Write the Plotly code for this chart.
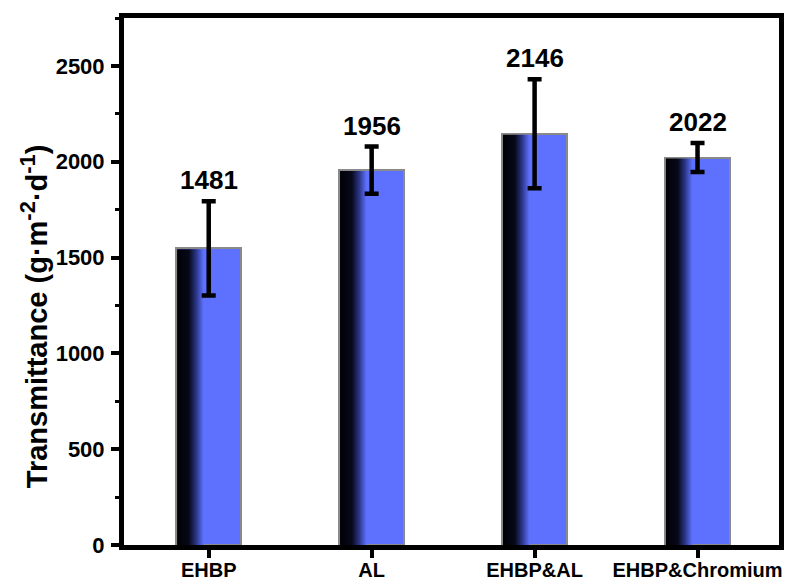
import plotly.graph_objects as go

categories = ["EHBP", "AL", "EHBP&AL", "EHBP&Chromium"]
bar_values = [1548, 1956, 2146, 2022]
error_values = [246, 123, 285, 76]
label_texts = ["1481", "1956", "2146", "2022"]
y_ticks = [0, 500, 1000, 1500, 2000, 2500]

BLUE = "#5d71fe"
FONT = "Liberation Sans, Arial, sans-serif"
BAR_W = 0.40
GRAD_FRAC = 0.42

pos = list(range(len(categories)))

fig = go.Figure()

fig.add_trace(go.Bar(
    x=pos, y=bar_values, width=BAR_W,
    marker=dict(color=BLUE, line=dict(color="#8a8a8a", width=2)),
    showlegend=False, hoverinfo="skip",
))

# dark-to-blue gradient on the left part of each bar
for i, v in zip(pos, bar_values):
    x0 = i - BAR_W / 2 + 0.006
    x1 = i - BAR_W / 2 + BAR_W * GRAD_FRAC
    y0 = 0
    y1 = v - 5
    fig.add_trace(go.Scatter(
        x=[x0, x1, x1, x0, x0], y=[y0, y0, y1, y1, y0],
        mode="lines", fill="toself", line=dict(width=0),
        fillgradient=dict(type="horizontal", colorscale=[
            [0.0, "#000004"], [0.45, "#07091a"], [0.72, "#2a3585"], [1.0, BLUE]]),
        showlegend=False, hoverinfo="skip",
    ))

fig.add_trace(go.Scatter(
    x=pos, y=bar_values, mode="markers",
    marker=dict(size=1, color="rgba(0,0,0,0)"),
    error_y=dict(type="data", array=error_values, visible=True,
                 color="black", thickness=4.5, width=7),
    showlegend=False, hoverinfo="skip",
))

for i, v, e, t in zip(pos, bar_values, error_values, label_texts):
    fig.add_annotation(x=i, y=v + e, text=t, showarrow=False, yshift=21,
                       font=dict(family=FONT, size=26, color="black", weight="bold"))

# y-axis title
fig.add_annotation(
    xref="paper", yref="paper", x=-0.1376, y=0.434, xanchor="center", yanchor="middle",
    textangle=-90, showarrow=False,
    text="Transmittance (g·m<sup><span style='font-size:22px'>-2</span></sup>·d<sup><span style='font-size:22px'>-1</span></sup>)",
    font=dict(family=FONT, size=29, color="black", weight="bold"),
)

fig.update_layout(
    template="none",
    width=795, height=580,
    margin=dict(l=116, r=24, t=10, b=43, autoexpand=False),
    paper_bgcolor="white", plot_bgcolor="white",
    font=dict(family=FONT, color="black"),
    bargap=0,
)

fig.update_xaxes(
    range=[-0.52, 3.5], tickvals=pos, ticktext=categories, automargin=False,
    showline=True, linewidth=5, linecolor="black", mirror=True,
    ticks="outside", ticklen=8, tickwidth=4, tickcolor="black",
    ticklabelstandoff=-5,
    tickfont=dict(family=FONT, size=20, color="black", weight="bold"),
    showgrid=False, zeroline=False,
)

fig.update_yaxes(
    range=[0, 2750], tickvals=y_ticks, automargin=False,
    showline=True, linewidth=5, linecolor="black", mirror=True,
    ticks="outside", ticklen=8, tickwidth=4, tickcolor="black",
    ticklabelstandoff=2,
    minor=dict(dtick=250, tick0=0, ticks="outside", ticklen=4, tickwidth=3, tickcolor="black"),
    tickfont=dict(family=FONT, size=22, color="black", weight="bold"),
    showgrid=False, zeroline=False,
)

fig.write_html("out.html")
